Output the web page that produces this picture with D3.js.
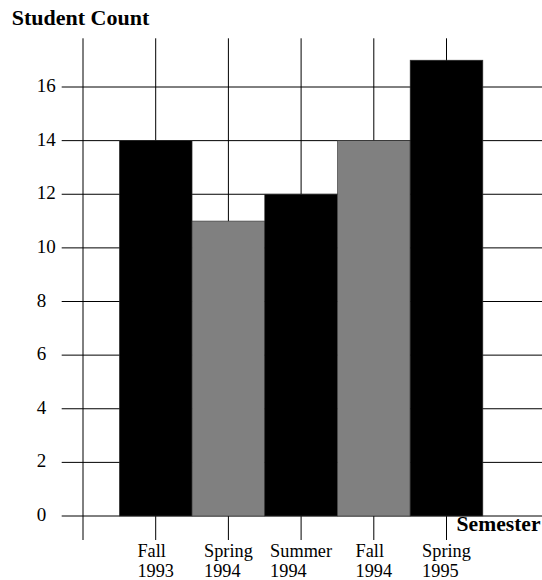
<!DOCTYPE html>
<html><head><meta charset="utf-8">
<script src="https://cdn.jsdelivr.net/npm/d3@7"></script>
<style>body{margin:0;background:#fff}svg{display:block}</style>
</head><body>
<script>
const semesters = [["Fall","1993"],["Spring","1994"],["Summer","1994"],["Fall","1994"],["Spring","1995"]];
const counts = [14, 11, 12, 14, 17];
const barColors = ["#000000","#808080","#000000","#808080","#000000"];
const yTicks = [0,2,4,6,8,10,12,14,16];

const W = 542, H = 580;
const svg = d3.select("body").append("svg").attr("width", W).attr("height", H)
  .style("font-family","'Liberation Serif','Times New Roman',serif");

const x = d3.scaleLinear().domain([0, 6]).range([83, 519.2]);
const y = d3.scaleLinear().domain([0, 16]).range([516, 87]);

// horizontal grid lines
svg.append("g").selectAll("line").data(yTicks).join("line")
  .attr("x1", 61.7).attr("x2", W)
  .attr("y1", d => y(d)).attr("y2", d => y(d))
  .attr("stroke", "#000").attr("stroke-width", 1);

// vertical lines (position 0 and category centers)
const vpos = [0,1,2,3,4,5];
svg.append("g").selectAll("line").data(vpos).join("line")
  .attr("x1", d => x(d)).attr("x2", d => x(d))
  .attr("y1", 38.3).attr("y2", 540)
  .attr("stroke", "#000").attr("stroke-width", 1);

// bars
svg.append("g").selectAll("rect").data(counts).join("rect")
  .attr("x", (d,i) => x(i + 0.5))
  .attr("width", (d,i) => x(i + 1.5) - x(i + 0.5))
  .attr("y", d => y(d))
  .attr("height", d => y(0) - y(d))
  .attr("fill", (d,i) => barColors[i])
  .attr("stroke", "#333").attr("stroke-width", 0.6);

// y tick labels
svg.append("g").selectAll("text").data(yTicks).join("text")
  .attr("x", 36.7).attr("y", d => y(d) + 5)
  .attr("font-size", 19).attr("fill", "#000")
  .text(d => d);

// x labels: block centred on tick, lines left aligned
const xl = svg.append("g");
semesters.forEach((lines, i) => {
  const t = xl.append("text").attr("font-size", 18.3).attr("fill", "#000");
  const spans = lines.map((s, k) => t.append("tspan").attr("y", k === 0 ? 557 : 576.5).text(s));
  const widths = spans.map(s => s.node().getComputedTextLength());
  const maxW = Math.max(...widths);
  const left = x(i + 1) - maxW / 2;
  spans.forEach(s => s.attr("x", left));
});

// titles
svg.append("text").attr("x", 11.7).attr("y", 25).attr("font-size", 22)
  .attr("font-weight", "bold").text("Student Count");
svg.append("text").attr("x", 540.5).attr("y", 530.5).attr("font-size", 21.6)
  .attr("font-weight", "bold").attr("text-anchor", "end").text("Semester");
</script>
</body></html>
